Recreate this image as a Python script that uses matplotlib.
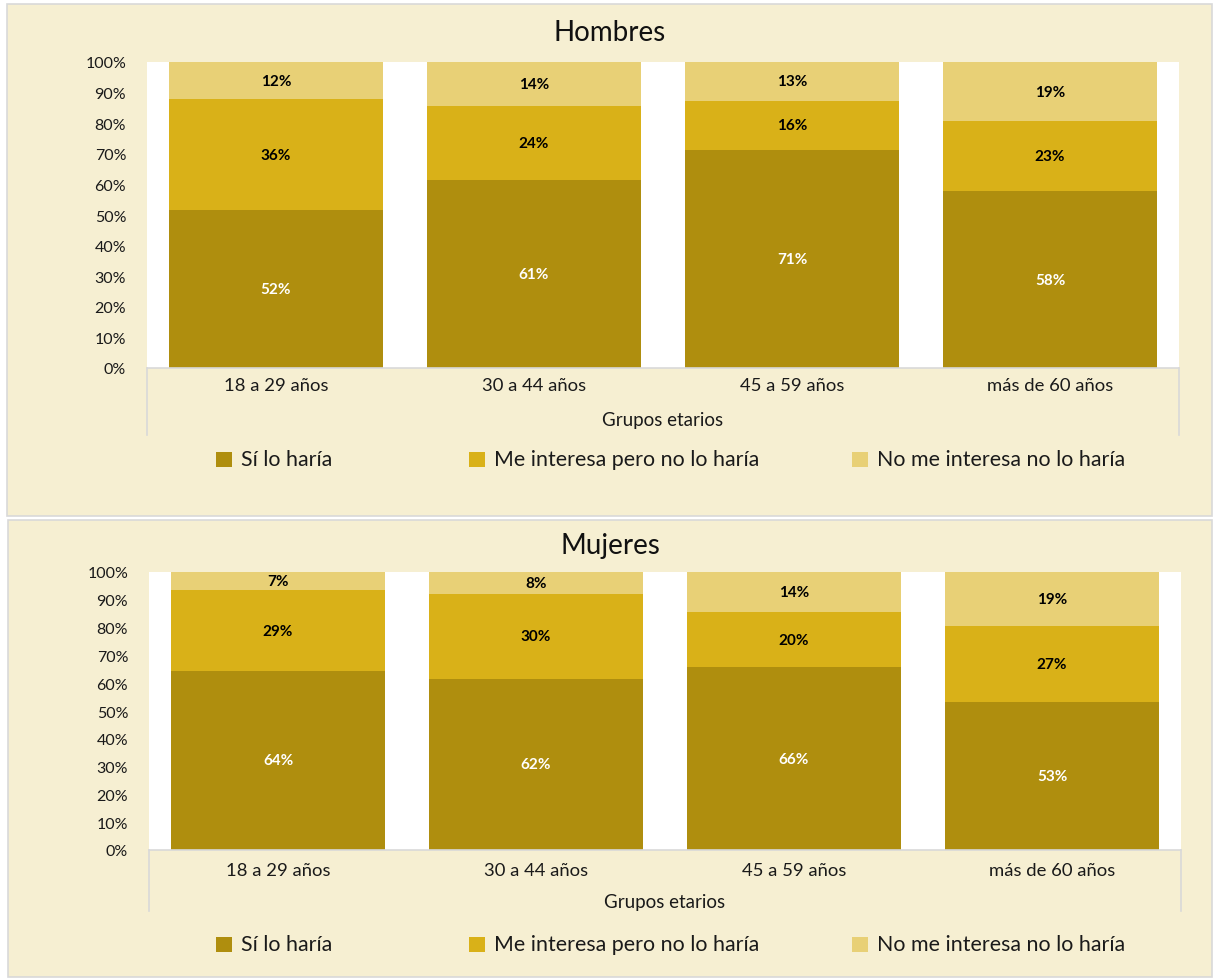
import matplotlib
matplotlib.use("Agg")
import matplotlib.pyplot as plt
from matplotlib.patches import Rectangle
from matplotlib.lines import Line2D

plt.rcParams['font.family'] = ['Lato', 'DejaVu Sans']

# ---- data -------------------------------------------------------------
grupos = ["18 a 29 años", "30 a 44 años", "45 a 59 años", "más de 60 años"]
series = ["Sí lo haría", "Me interesa pero no lo haría", "No me interesa no lo haría"]

hombres_si = [51.6, 61.4, 71.4, 57.8]
hombres_interesa = [36.3, 24.2, 15.9, 22.9]
hombres_no = [12.1, 14.4, 12.7, 19.3]

mujeres_si = [64.4, 61.6, 65.8, 53.2]
mujeres_interesa = [29.0, 30.4, 19.8, 27.4]
mujeres_no = [6.6, 8.0, 14.4, 19.4]

y_ticks = list(range(0, 101, 10))
y_tick_labels = [f"{v}%" for v in y_ticks]

# ---- style ------------------------------------------------------------
COLORS = ["#AF8E0E", "#D9B118", "#E8D076"]
LABEL_COLORS = ["white", "black", "black"]
BG = "#F6EFD2"
EDGE = "#D9D9D9"
TXT = "#1a1a1a"

W, H = 1213, 979
fig = plt.figure(figsize=(W / 100, H / 100), dpi=100)
fig.patch.set_facecolor("white")


def fx(x):
    return x / W


def fy(y):
    return 1 - y / H


def panel(box, plot, title, title_y, cat_y, axis_title_y, line_bottom, legend_y,
          si, interesa, no):
    x0, y0, x1, y1 = box
    fig.patches.append(Rectangle((fx(x0), fy(y1)), fx(x1 - x0), (y1 - y0) / H,
                                 transform=fig.transFigure, facecolor=BG,
                                 edgecolor=EDGE, lw=1.2, zorder=-5))
    px0, py0, px1, py1 = plot
    ax = fig.add_axes([fx(px0), fy(py1), fx(px1 - px0), (py1 - py0) / H])
    ax.set_zorder(2)
    ax.set_facecolor("white")
    xs = list(range(len(grupos)))
    bottom = [0] * len(grupos)
    for vals, color, lc in zip([si, interesa, no], COLORS, LABEL_COLORS):
        bars = ax.bar(xs, vals, width=0.833, bottom=bottom, color=color,
                      edgecolor="none", zorder=2)
        for b, v, btm in zip(bars, vals, bottom):
            ax.text(b.get_x() + b.get_width() / 2, btm + v / 2, f"{v:.0f}%",
                    ha="center", va="center", color=lc, fontsize=11,
                    fontweight="bold", zorder=3)
        bottom = [b + v for b, v in zip(bottom, vals)]
    ax.set_xlim(-0.5, len(grupos) - 0.5)
    ax.set_ylim(0, 100)
    ax.set_yticks(y_ticks)
    ax.set_yticklabels(y_tick_labels, fontsize=11.5, color=TXT)
    ax.set_xticks(xs)
    ax.set_xticklabels([])
    ax.tick_params(axis="both", length=0)
    ax.tick_params(axis="y", pad=15)
    for s in ["top", "right", "left"]:
        ax.spines[s].set_visible(False)
    ax.spines["bottom"].set_color(EDGE)
    ax.spines["bottom"].set_linewidth(1.2)

    # category labels and axis title
    for i, g in enumerate(grupos):
        xc = px0 + (px1 - px0) * (i + 0.5) / len(grupos)
        fig.text(fx(xc), fy(cat_y), g, ha="center", va="center",
                 fontsize=13.3, color=TXT)
    fig.text(fx((px0 + px1) / 2), fy(axis_title_y), "Grupos etarios",
             ha="center", va="center", fontsize=13.5, color=TXT)
    for xv in (px0, px1):
        fig.lines.append(Line2D([fx(xv), fx(xv)], [fy(py1), fy(line_bottom)],
                                transform=fig.transFigure, color=EDGE, lw=1.2))

    # title
    fig.text(fx((x0 + x1) / 2), fy(title_y), title, ha="center", va="center",
             fontsize=20, color="#111111")

    # legend
    for xm, name, color in zip([216, 469, 852], series, COLORS):
        fig.patches.append(Rectangle((fx(xm), fy(legend_y + 8)), fx(16), 15 / H,
                                     transform=fig.transFigure, facecolor=color,
                                     edgecolor="none"))
        fig.text(fx(xm + 25), fy(legend_y), name, ha="left", va="center",
                 fontsize=15.4, color=TXT)
    return ax


panel((7, 5, 1212, 517), (147, 63, 1179, 369), "Hombres", 33, 386, 421, 436, 460,
      hombres_si, hombres_interesa, hombres_no)
panel((8, 521, 1212, 978), (149, 573, 1181, 851), "Mujeres", 546, 871, 903, 912, 945,
      mujeres_si, mujeres_interesa, mujeres_no)

fig.savefig("out.png", dpi=100, facecolor=fig.get_facecolor())
